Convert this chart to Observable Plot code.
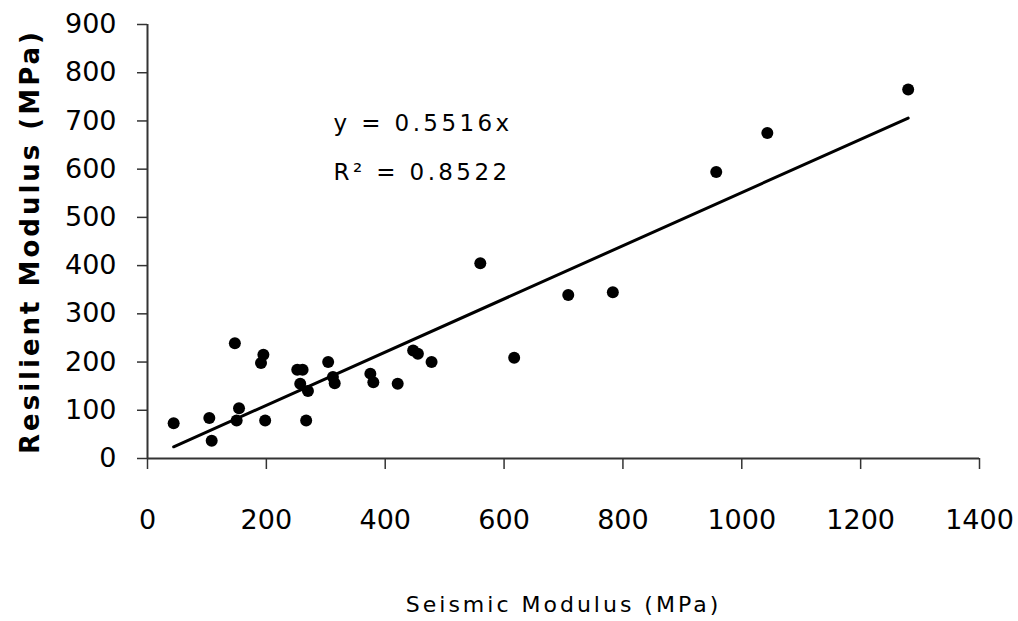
<!DOCTYPE html>
<html>
<head>
<meta charset="utf-8">
<script src="https://cdn.jsdelivr.net/npm/d3@7"></script>
<script src="https://cdn.jsdelivr.net/npm/@observablehq/plot@0.6"></script>
<style>
  html, body { margin: 0; padding: 0; background: #fff; }
  #chart svg { display: block; }
</style>
</head>
<body>
<div id="chart"></div>
<script>
// Data
const seismic = [44, 104, 108, 147, 195, 191, 154, 150, 198, 252, 261, 257, 270, 267, 304, 312, 315, 375, 380, 421, 447, 455, 478, 560, 617, 708, 783, 957, 1043, 1280];
const resilient = [73, 84, 37, 239, 215, 198, 104, 79, 79, 184, 184, 155, 140, 79, 200, 169, 156, 176, 158, 155, 224, 217, 200, 405, 209, 339, 345, 594, 675, 765];
const slope = 0.5516;
const rSquared = 0.8522;
const xTicks = [0, 200, 400, 600, 800, 1000, 1200, 1400];
const yTicks = [0, 100, 200, 300, 400, 500, 600, 700, 800, 900];
const xTitle = "Seismic Modulus (MPa)";
const yTitle = "Resilient Modulus (MPa)";
const eqLine1 = `y = ${slope}x`;
const eqLine2 = `R² = ${rSquared}`;

const points = seismic.map((x, i) => ({x, y: resilient[i]}));
const xMin = d3.min(seismic), xMax = d3.max(seismic);
const trend = [{x: xMin, y: slope * xMin}, {x: xMax, y: slope * xMax}];

const font = "DejaVu Sans, sans-serif";
const fmt = d3.format("d");

const chart = Plot.plot({
  width: 1018,
  height: 621,
  marginLeft: 147,
  marginRight: 39,
  marginTop: 24,
  marginBottom: 163,
  style: {background: "#fff", color: "#000", fontFamily: font},
  x: {domain: [0, 1400]},
  y: {domain: [0, 900]},
  marks: [
    Plot.axisX({ticks: xTicks, tickFormat: fmt, tickSize: 11, tickPadding: 40, fontSize: 27, label: null, stroke: "#333", strokeWidth: 1.5, fill: "#000"}),
    Plot.axisY({ticks: yTicks, tickFormat: fmt, tickSize: 10, tickPadding: 21, fontSize: 27, label: null, stroke: "#333", strokeWidth: 1.5, fill: "#000"}),
    Plot.ruleY([0], {stroke: "#333", strokeWidth: 2}),
    Plot.ruleX([0], {stroke: "#333", strokeWidth: 2}),
    Plot.line(trend, {x: "x", y: "y", stroke: "#000", strokeWidth: 3}),
    Plot.dot(points, {x: "x", y: "y", r: 6, fill: "#000", stroke: null}),
    Plot.text([eqLine1], {text: d => d, frameAnchor: "top-left", dx: 186, dy: 99, textAnchor: "start", lineAnchor: "middle", fontSize: 23, fill: "#000"}),
    Plot.text([eqLine2], {text: d => d, frameAnchor: "top-left", dx: 186, dy: 148, textAnchor: "start", lineAnchor: "middle", fontSize: 23, fill: "#000"}),
    Plot.text([xTitle], {text: d => d, frameAnchor: "bottom", dy: 146, textAnchor: "middle", lineAnchor: "middle", fontSize: 22, fill: "#000"}),
    Plot.text([yTitle], {text: d => d, frameAnchor: "left", dx: -117, rotate: -90, textAnchor: "middle", lineAnchor: "middle", fontSize: 26, fontWeight: "bold", fill: "#000"})
  ]
});
document.getElementById("chart").appendChild(chart);

// wider letter spacing for the annotation and titles, as in the reference
chart.querySelectorAll("text").forEach(t => {
  const s = t.textContent;
  if (s === eqLine1 || s === eqLine2) t.style.letterSpacing = "3.4px";
  if (s === xTitle || s === yTitle) t.style.letterSpacing = "3px";
});
</script>
</body>
</html>
